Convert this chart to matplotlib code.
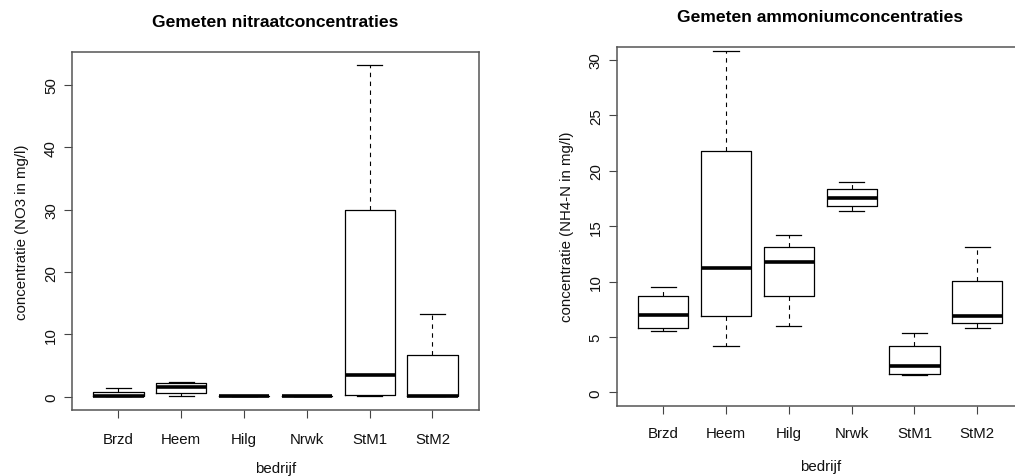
import matplotlib
matplotlib.use("Agg")
import matplotlib.pyplot as plt

plt.rcParams['font.family'] = ['Liberation Sans', 'DejaVu Sans']

bedrijven = ["Brzd", "Heem", "Hilg", "Nrwk", "StM1", "StM2"]

# nitraat (NO3 in mg/l): onder-whisker, Q1, mediaan, Q3, boven-whisker
no3_lo  = [0.1, 0.15, 0.15, 0.15, 0.15, 0.2]
no3_q1  = [0.15, 0.65, 0.15, 0.15, 0.35, 0.2]
no3_med = [0.15, 1.5, 0.15, 0.15, 3.55, 0.2]
no3_q3  = [0.8, 2.25, 0.15, 0.15, 29.9, 6.65]
no3_hi  = [1.35, 2.4, 0.15, 0.15, 53.2, 13.3]

# ammonium (NH4-N in mg/l)
nh4_lo  = [5.5, 4.15, 5.95, 16.4, 1.6, 5.8]
nh4_q1  = [5.85, 6.85, 8.7, 16.8, 1.65, 6.25]
nh4_med = [7.0, 11.2, 11.8, 17.55, 2.4, 6.85]
nh4_q3  = [8.7, 21.8, 13.1, 18.35, 4.2, 10.05]
nh4_hi  = [9.5, 30.85, 14.25, 18.95, 5.35, 13.15]


def stats(lo, q1, med, q3, hi):
    out = []
    for i in range(len(bedrijven)):
        out.append(dict(label=bedrijven[i], whislo=lo[i], q1=q1[i], med=med[i],
                        q3=q3[i], whishi=hi[i], fliers=[]))
    return out


def rbox(ax, st, ylim, yticks, ylabel, title, title_y, xpad, xlabpad):
    ax.bxp(st, positions=range(1, 7), widths=0.8, showfliers=False,
           boxprops=dict(color='black', linewidth=0.9),
           medianprops=dict(color='black', linewidth=2.6, solid_capstyle='butt'),
           whiskerprops=dict(color='black', linewidth=0.8, linestyle=(0, (4, 4))),
           capprops=dict(color='black', linewidth=0.9), capwidths=0.4)
    ax.set_xlim(0.26, 6.74)
    ax.set_ylim(*ylim)
    ax.set_yticks(yticks)
    ax.set_yticklabels([str(t) for t in yticks], rotation=90, va='center')
    ax.set_xticks(range(1, 7))
    ax.set_xticklabels(bedrijven)
    ax.tick_params(length=6, width=0.8, color='#444444', labelsize=10.8,
                   labelcolor='#111111')
    ax.tick_params(axis='x', pad=xpad)
    ax.tick_params(axis='y', pad=4)
    for s in ax.spines.values():
        s.set_color('#555555')
        s.set_linewidth(1.1)
    ax.set_xlabel("bedrijf", fontsize=10.8, labelpad=xlabpad, color='#111111')
    ax.set_ylabel(ylabel, fontsize=10.8, labelpad=11, color='#111111')
    ax.set_title(title, fontsize=12.6, fontweight='bold', y=title_y)


fig = plt.figure(figsize=(10.15, 4.77), dpi=100)
ax1 = fig.add_axes([0.0709, 0.1384, 0.401, 0.7505])
ax2 = fig.add_axes([0.6076, 0.1474, 0.401, 0.7526])

rbox(ax1, stats(no3_lo, no3_q1, no3_med, no3_q3, no3_hi), (-2.12, 55.3),
     [0, 10, 20, 30, 40, 50], "concentratie (NO3 in mg/l)",
     "Gemeten nitraatconcentraties", 1.048, 9.5, 11)
rbox(ax2, stats(nh4_lo, nh4_q1, nh4_med, nh4_q3, nh4_hi), (-1.2, 31.2),
     [0, 5, 10, 15, 20, 25, 30], "concentratie (NH4-N in mg/l)",
     "Gemeten ammoniumconcentraties", 1.047, 8.5, 14)
# rechterrand valt buiten het beeld
ax2.spines['right'].set_visible(False)

fig.savefig("out.png", dpi=100)
